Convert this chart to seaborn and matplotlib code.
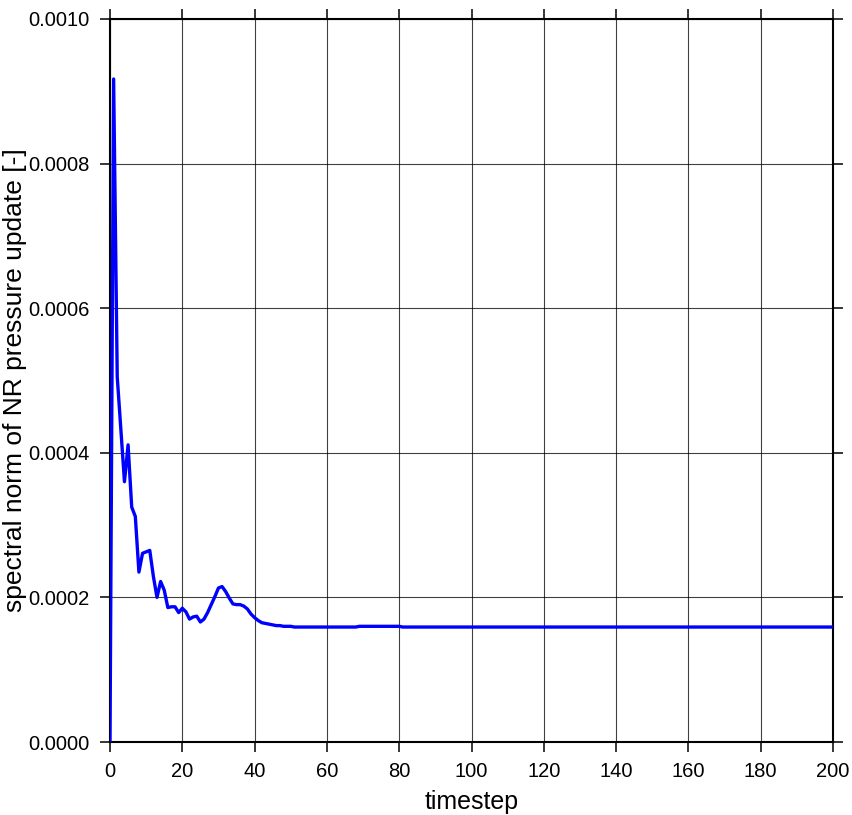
import numpy as np
import pandas as pd
import matplotlib
matplotlib.use("Agg")
import matplotlib.pyplot as plt
import seaborn as sns

# Spectral norm of the Newton-Raphson pressure update at each timestep
timestep = list(range(0, 201))
norm_values = [
    0.0, 0.000917, 0.000505, 0.000432, 0.000360, 0.000411, 0.000325, 0.000312, 0.000235, 0.000261,
    0.000263, 0.000265, 0.000229, 0.000200, 0.000222, 0.000210, 0.000186, 0.000187, 0.000187, 0.000179,
    0.000185, 0.000180, 0.000170, 0.000173, 0.000174, 0.000166, 0.000170, 0.000179, 0.000190, 0.000201,
    0.000213, 0.000215, 0.000208, 0.000199, 0.000191, 0.000190, 0.000190, 0.000188, 0.000184, 0.000177,
    0.000172, 0.000168, 0.000165, 0.000164, 0.000163, 0.000162, 0.000161, 0.000161, 0.000160, 0.000160,
    0.000160, 0.000159, 0.000159, 0.000159, 0.000159, 0.000159, 0.000159, 0.000159, 0.000159, 0.000159,
    0.000159, 0.000159, 0.000159, 0.000159, 0.000159, 0.000159, 0.000159, 0.000159, 0.000159, 0.000160,
    0.000160, 0.000160, 0.000160, 0.000160, 0.000160, 0.000160, 0.000160, 0.000160, 0.000160, 0.000160,
    0.000160, 0.000159, 0.000159, 0.000159, 0.000159, 0.000159, 0.000159, 0.000159, 0.000159, 0.000159,
    0.000159, 0.000159, 0.000159, 0.000159, 0.000159, 0.000159, 0.000159, 0.000159, 0.000159, 0.000159,
    0.000159, 0.000159, 0.000159, 0.000159, 0.000159, 0.000159, 0.000159, 0.000159, 0.000159, 0.000159,
    0.000159, 0.000159, 0.000159, 0.000159, 0.000159, 0.000159, 0.000159, 0.000159, 0.000159, 0.000159,
    0.000159, 0.000159, 0.000159, 0.000159, 0.000159, 0.000159, 0.000159, 0.000159, 0.000159, 0.000159,
    0.000159, 0.000159, 0.000159, 0.000159, 0.000159, 0.000159, 0.000159, 0.000159, 0.000159, 0.000159,
    0.000159, 0.000159, 0.000159, 0.000159, 0.000159, 0.000159, 0.000159, 0.000159, 0.000159, 0.000159,
    0.000159, 0.000159, 0.000159, 0.000159, 0.000159, 0.000159, 0.000159, 0.000159, 0.000159, 0.000159,
    0.000159, 0.000159, 0.000159, 0.000159, 0.000159, 0.000159, 0.000159, 0.000159, 0.000159, 0.000159,
    0.000159, 0.000159, 0.000159, 0.000159, 0.000159, 0.000159, 0.000159, 0.000159, 0.000159, 0.000159,
    0.000159, 0.000159, 0.000159, 0.000159, 0.000159, 0.000159, 0.000159, 0.000159, 0.000159, 0.000159,
    0.000159, 0.000159, 0.000159, 0.000159, 0.000159, 0.000159, 0.000159, 0.000159, 0.000159, 0.000159,
    0.000159,
]

x_ticks = [0, 20, 40, 60, 80, 100, 120, 140, 160, 180, 200]
y_ticks = [0.0, 0.0002, 0.0004, 0.0006, 0.0008, 0.0010]
x_label = "timestep"
y_label = "spectral norm of NR pressure update [-]"

sns.set_theme(style="white")
plt.rcParams["font.family"] = ["Liberation Sans", "DejaVu Sans"]

df = pd.DataFrame({"timestep": timestep, "norm": norm_values})

fig = plt.figure(figsize=(8.52, 8.15), dpi=100)
ax = fig.add_axes([110 / 852, 1 - 742 / 815, 723 / 852, 723 / 815])

sns.lineplot(data=df, x="timestep", y="norm", ax=ax, color="#0000ff",
             linewidth=2.4, zorder=3)

ax.set_xlim(0, 200)
ax.set_ylim(0, 0.001)
ax.set_xticks(x_ticks)
ax.set_yticks(y_ticks)
ax.set_yticklabels([f"{v:.4f}" for v in y_ticks])

ax.grid(True, color="black", linewidth=0.8, alpha=0.75)
for side in ["left", "right", "top", "bottom"]:
    ax.spines[side].set_visible(True)
    ax.spines[side].set_color("black")
    ax.spines[side].set_linewidth(1.5)

ax.tick_params(axis="both", which="major", direction="out", length=7.2, width=1.1,
               color="black", labelsize=14.5, labelcolor="black",
               top=True, right=True, bottom=True, left=True, pad=7.5)

ax.set_xlabel(x_label, fontsize=18, color="black", labelpad=6)
ax.set_ylabel(y_label, fontsize=19, color="black")
# the label sits tight against the left edge of the canvas
ax.yaxis.set_label_coords((27 - 110) / 723, 0.5)

fig.savefig("out.png", dpi=100)
